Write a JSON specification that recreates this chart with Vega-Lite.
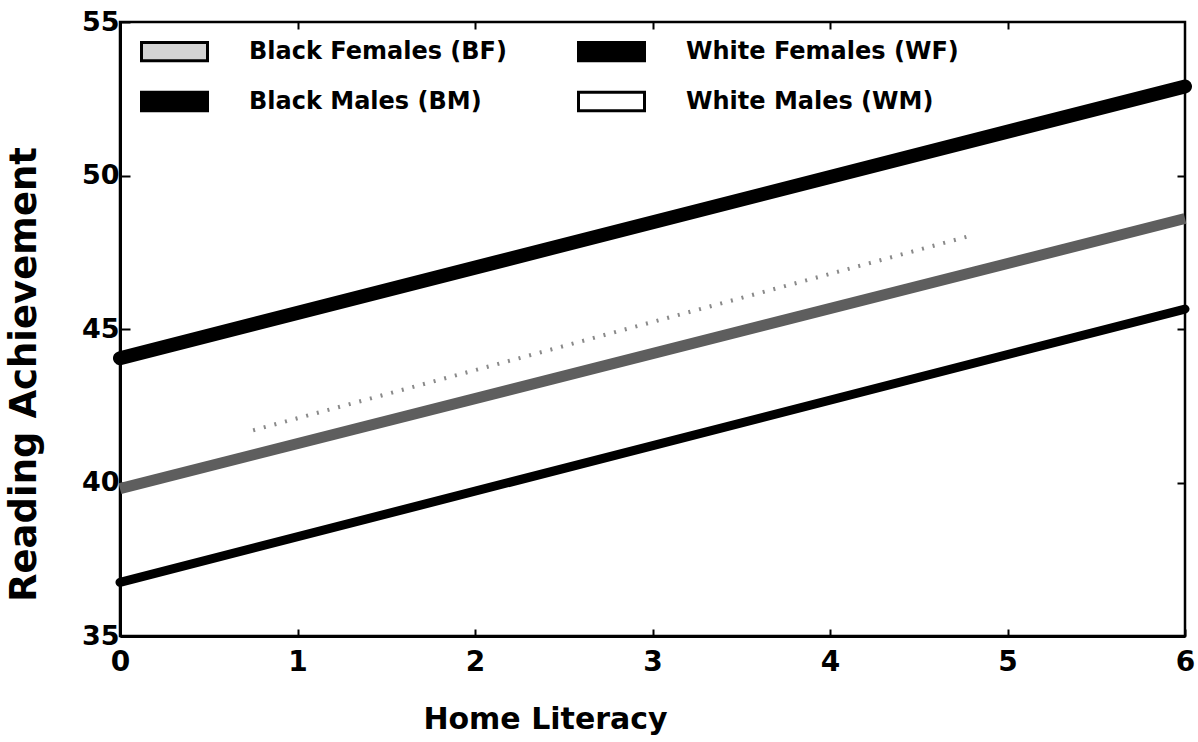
{
  "$schema": "https://vega.github.io/schema/vega-lite/v6.json",
  "width": 1065,
  "height": 614,
  "autosize": {"type": "none"},
  "padding": {"left": 120, "top": 22, "right": 13, "bottom": 106},
  "background": "white",
  "config": {
    "view": {"stroke": "black", "strokeWidth": 2.5},
    "font": "DejaVu Sans",
    "axis": {"domainColor": "black", "tickColor": "black", "labelColor": "black", "titleColor": "black", "grid": false}
  },
  "data": {
    "values": [
      {"series": "White Females (WF)", "literacy": 0, "reading": 44.05},
      {"series": "White Females (WF)", "literacy": 6, "reading": 52.9},
      {"series": "Black Females (BF)", "literacy": 0, "reading": 39.8},
      {"series": "Black Females (BF)", "literacy": 6, "reading": 48.6},
      {"series": "Black Males (BM)", "literacy": 0, "reading": 36.75},
      {"series": "Black Males (BM)", "literacy": 6, "reading": 45.65},
      {"series": "White Males (WM)", "literacy": 0.75, "reading": 41.7},
      {"series": "White Males (WM)", "literacy": 4.8, "reading": 48.05}
    ]
  },
  "layer": [
    {
      "mark": {"type": "point", "filled": true, "opacity": 0},
      "encoding": {
        "x": {"field": "literacy", "type": "quantitative", "axis": null},
        "y": {"field": "reading", "type": "quantitative", "axis": null},
        "fill": {
          "field": "series", "type": "nominal",
          "scale": {
            "domain": ["Black Females (BF)", "White Females (WF)", "Black Males (BM)", "White Males (WM)"],
            "range": ["#d4d4d4", "#000000", "#000000", "#ffffff"]
          },
          "legend": {
            "title": null,
            "orient": "none",
            "direction": "horizontal",
            "legendX": 20,
            "legendY": -5,
            "columns": 2,
            "padding": 0,
            "columnPadding": 65,
            "rowPadding": -15,
            "symbolType": "M-1,-0.28H1V0.28H-1Z",
            "symbolSize": 4356,
            "symbolStrokeWidth": 3,
            "symbolStrokeColor": "black",
            "symbolOpacity": 1,
            "labelOffset": 40,
            "labelFont": "DejaVu Sans",
            "labelFontWeight": "bold",
            "labelFontSize": 24,
            "labelColor": "black",
            "labelLimit": 400,
            "encode": {
              "symbols": {
                "update": {
                  "stroke": {"value": "#000000"},
                  "strokeWidth": {"value": 3},
                  "opacity": {"value": 1},
                  "fillOpacity": {"value": 1}
                }
              }
            }
          }
        }
      }
    },
    {
      "transform": [{"filter": "datum.series === 'White Females (WF)'"}],
      "mark": {"type": "line", "color": "#000000", "strokeWidth": 14, "strokeCap": "round"},
      "encoding": {
        "x": {
          "field": "literacy", "type": "quantitative",
          "scale": {"domain": [0, 6], "nice": false, "zero": false},
          "axis": {
            "orient": "bottom", "title": "Home Literacy", "values": [0, 1, 2, 3, 4, 5, 6],
            "tickSize": -7, "tickWidth": 2, "domainWidth": 3,
            "labelFontSize": 28, "labelFontWeight": "bold", "labelFont": "DejaVu Sans",
            "labelBaseline": "top", "labelPadding": 19, "labelFlush": false,
            "titleFontSize": 30, "titleFontWeight": "bold", "titleFont": "DejaVu Sans",
            "titleX": 425, "titleY": 92, "titleBaseline": "alphabetic", "titleAlign": "center"
          }
        },
        "y": {
          "field": "reading", "type": "quantitative",
          "scale": {"domain": [35, 55], "nice": false, "zero": false},
          "axis": {
            "orient": "left", "title": "Reading Achievement", "values": [35, 40, 45, 50, 55],
            "tickSize": -10, "tickWidth": 2, "domainWidth": 3,
            "labelFontSize": 27, "labelFontWeight": "bold", "labelFont": "DejaVu Sans",
            "labelPadding": 11, "labelFlush": false,
            "titleFontSize": 37, "titleFontWeight": "bold", "titleFont": "DejaVu Sans",
            "titleX": -96, "titleY": 352, "titleBaseline": "middle", "titleAlign": "center", "titleAngle": -90
          }
        }
      }
    },
    {
      "transform": [{"filter": "datum.series === 'Black Females (BF)'"}],
      "mark": {"type": "line", "color": "#5e5e5e", "strokeWidth": 11, "strokeCap": "butt"},
      "encoding": {
        "x": {"field": "literacy", "type": "quantitative", "axis": null},
        "y": {"field": "reading", "type": "quantitative", "axis": null}
      }
    },
    {
      "transform": [{"filter": "datum.series === 'Black Males (BM)'"}],
      "mark": {"type": "line", "color": "#000000", "strokeWidth": 9, "strokeCap": "round"},
      "encoding": {
        "x": {"field": "literacy", "type": "quantitative", "axis": null},
        "y": {"field": "reading", "type": "quantitative", "axis": null}
      }
    },
    {
      "transform": [{"filter": "datum.series === 'White Males (WM)'"}],
      "mark": {"type": "line", "color": "#8a8a8a", "strokeWidth": 4, "strokeDash": [2, 9]},
      "encoding": {
        "x": {
          "field": "literacy", "type": "quantitative",
          "axis": {"orient": "top", "title": null, "labels": false, "values": [1, 2, 3, 4, 5], "tickSize": -7, "tickWidth": 2, "domain": false}
        },
        "y": {
          "field": "reading", "type": "quantitative",
          "axis": {"orient": "right", "title": null, "labels": false, "values": [40, 45, 50], "tickSize": -8, "tickWidth": 2, "domain": false}
        }
      }
    }
  ],
  "resolve": {"axis": {"x": "independent", "y": "independent"}}
}
